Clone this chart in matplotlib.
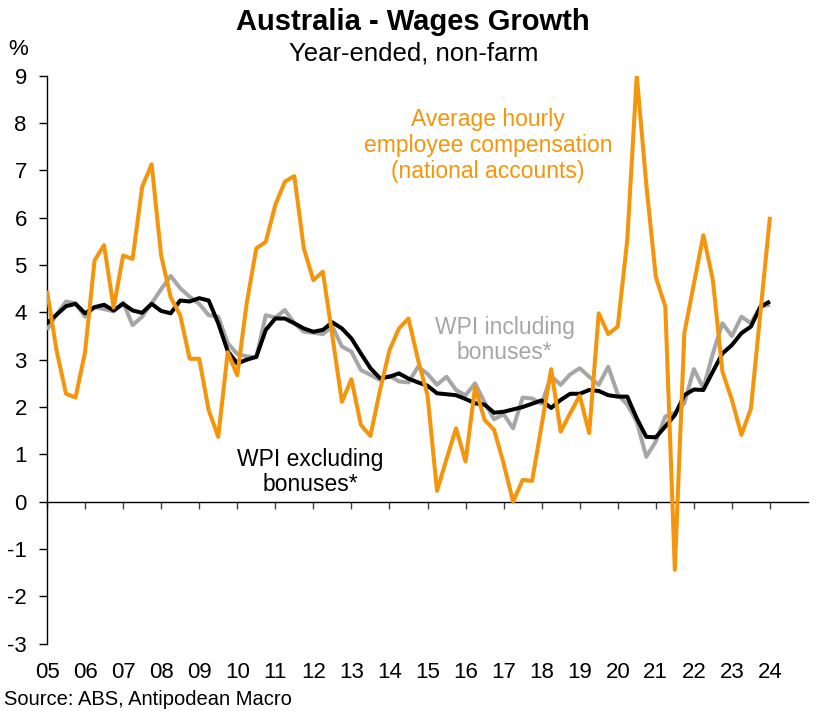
import matplotlib
matplotlib.use("Agg")
import matplotlib.pyplot as plt
import matplotlib.transforms as mtransforms
import numpy as np

plt.rcParams['font.family'] = ['Liberation Sans', 'DejaVu Sans']

# Quarterly data, 2005 Q1 .. 2024 Q1 (year-ended % change)
start_year = 2005
hourly_comp = [4.46, 3.2, 2.28, 2.2, 3.16, 5.1, 5.42, 4.1, 5.2, 5.13,
               6.65, 7.13, 5.2, 4.32, 3.94, 3.02, 3.02, 1.93, 1.37, 3.16,
               2.67, 4.2, 5.35, 5.49, 6.27, 6.76, 6.88, 5.35, 4.68, 4.86,
               3.5, 2.11, 2.59, 1.62, 1.39, 2.35, 3.2, 3.66, 3.87, 3.0,
               2.25, 0.23, 0.9, 1.55, 0.85, 2.42, 1.73, 1.52, 0.81, 0.0,
               0.46, 0.44, 1.62, 2.8, 1.48, 1.87, 2.24, 1.45, 3.98, 3.54,
               3.70, 5.53, 9.0, 6.7, 4.75, 4.12, -1.44, 3.56, 4.6, 5.63,
               4.68, 2.75, 2.15, 1.41, 1.97, 4.0, 6.02]
wpi_ex = [3.77, 3.95, 4.13, 4.18, 3.98, 4.11, 4.16, 4.04, 4.18, 4.04,
          3.99, 4.18, 4.03, 3.98, 4.25, 4.23, 4.30, 4.25, 3.77, 3.18,
          2.92, 3.0, 3.06, 3.63, 3.87, 3.87, 3.77, 3.66, 3.59, 3.63,
          3.79, 3.66, 3.45, 3.13, 2.82, 2.61, 2.64, 2.71, 2.6, 2.52,
          2.45, 2.29, 2.27, 2.25, 2.17, 2.08, 2.05, 1.88, 1.9, 1.95,
          2.0, 2.07, 2.14, 1.98, 2.15, 2.28, 2.28, 2.36, 2.34, 2.25,
          2.22, 2.22, 1.76, 1.37, 1.36, 1.59, 1.83, 2.25, 2.37, 2.36,
          2.75, 3.13, 3.31, 3.56, 3.7, 4.12, 4.23]
wpi_inc = [3.63, 3.95, 4.23, 4.19, 3.91, 4.11, 4.07, 4.02, 4.21, 3.73,
           3.91, 4.19, 4.49, 4.77, 4.51, 4.33, 4.18, 3.94, 3.91, 3.35,
           3.12, 3.07, 3.05, 3.94, 3.89, 4.05, 3.77, 3.59, 3.57, 3.54,
           3.70, 3.28, 3.17, 2.78, 2.68, 2.57, 2.66, 2.54, 2.52, 2.85,
           2.7, 2.47, 2.64, 2.36, 2.25, 2.5, 2.1, 1.74, 1.85, 1.55,
           2.2, 2.18, 2.07, 2.65, 2.47, 2.69, 2.82, 2.64, 2.47, 2.85,
           2.27, 2.05, 1.69, 0.95, 1.27, 1.8, 1.88, 2.08, 2.8, 2.4,
           3.13, 3.77, 3.5, 3.91, 3.77, 4.12, 4.16]
year_labels = ["05", "06", "07", "08", "09", "10", "11", "12", "13", "14",
               "15", "16", "17", "18", "19", "20", "21", "22", "23", "24"]
y_ticks = [-3, -2, -1, 0, 1, 2, 3, 4, 5, 6, 7, 8, 9]

ORANGE = '#F5950C'
GREY = '#A6A6A6'
BLACK = '#000000'

x = start_year + np.arange(len(hourly_comp)) / 4.0

fig = plt.figure(figsize=(8.35, 7.11), dpi=100)
ax = fig.add_axes([47/835, 1-643.7/711, (808-47)/835, (643.7-75.7)/711])

lw = 2.9
ax.plot(x, wpi_inc, color=GREY, lw=lw, solid_joinstyle='round', solid_capstyle='butt', zorder=3)
ax.plot(x, wpi_ex, color=BLACK, lw=lw, solid_joinstyle='round', solid_capstyle='butt', zorder=4)
ax.plot(x, hourly_comp, color=ORANGE, lw=lw, solid_joinstyle='round', solid_capstyle='butt', zorder=5)

ax.set_xlim(2005, 2025)
ax.set_ylim(-3, 9)

for s in ['top', 'right']:
    ax.spines[s].set_visible(False)
ax.spines['bottom'].set_position(('data', 0))
ax.spines['left'].set_linewidth(1.0)
ax.spines['bottom'].set_linewidth(1.0)

years = [start_year + k for k in range(len(year_labels))]
ax.set_xticks(years)
ax.set_xticklabels([])
ax.tick_params(axis='x', direction='out', length=5, width=1.0, colors='#404040')
ax.set_yticks(y_ticks)
ax.set_yticklabels([str(v) for v in y_ticks])
ax.tick_params(axis='y', direction='out', length=5.5, width=1.0, pad=9, labelsize=16)

trans = mtransforms.blended_transform_factory(ax.transData, ax.transAxes)
for yr, lab in zip(years, year_labels):
    ax.text(yr, -0.0604, lab, transform=trans, ha='center', va='baseline', fontsize=16)

# Annotations
def px2d(px, py):
    return 2005 + (px - 47) / 38.05, (501.7 - py) / 47.33

for txt, py in [("Average hourly", 126), ("employee compensation", 152), ("(national accounts)", 178)]:
    xd, yd = px2d(488, py)
    ax.text(xd, yd, txt, color=ORANGE, fontsize=16.5, ha='center', va='baseline')
for txt, py in [("WPI including", 334), ("bonuses*", 359)]:
    xd, yd = px2d(504.5, py)
    ax.text(xd, yd, txt, color=GREY, fontsize=16.5, ha='center', va='baseline')
for txt, py in [("WPI excluding", 466), ("bonuses*", 491)]:
    xd, yd = px2d(310, py)
    ax.text(xd, yd, txt, color=BLACK, fontsize=16.5, ha='center', va='baseline')

fig.text(413/835, 1-30/711, "Australia - Wages Growth", ha='center', va='baseline',
         fontsize=21, fontweight='bold')
fig.text(414/835, 1-61/711, "Year-ended, non-farm", ha='center', va='baseline', fontsize=18.5)
fig.text(8/835, 1-55/711, "%", ha='left', va='baseline', fontsize=16)
fig.text(4/835, 1-705/711, "Source: ABS, Antipodean Macro", ha='left', va='baseline', fontsize=14.5)

fig.savefig("out.png", dpi=100)
